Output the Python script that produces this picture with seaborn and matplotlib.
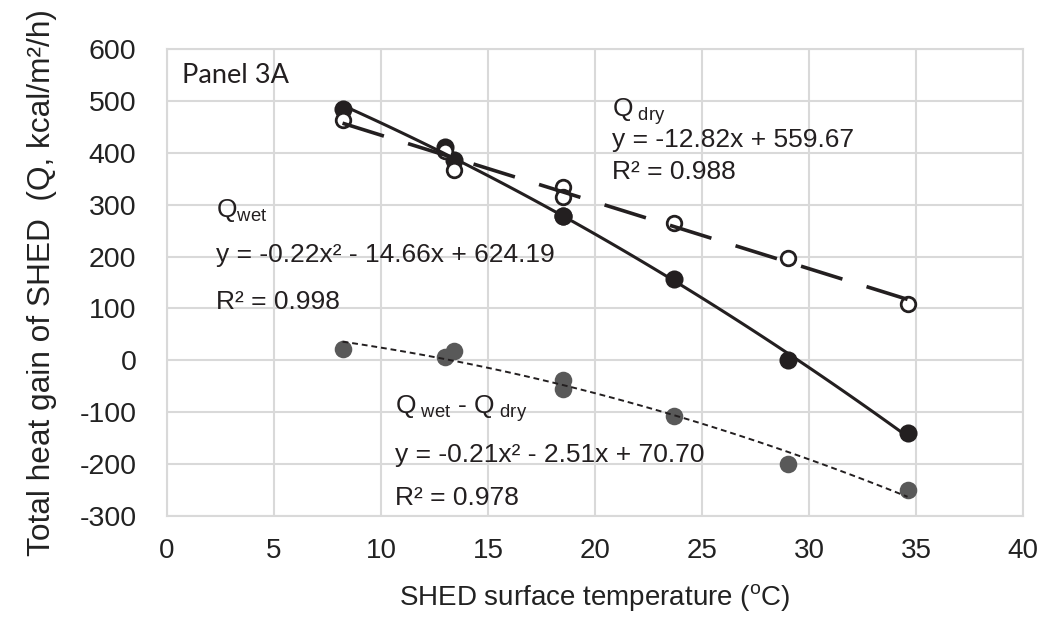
import numpy as np
import pandas as pd
import matplotlib
matplotlib.use("Agg")
import matplotlib.pyplot as plt
import seaborn as sns

# values
temp = [8.2, 13.0, 13.4, 18.5, 18.5, 23.7, 29.0, 34.6]
q_wet = [485, 410, 386, 278, 278, 157, 0, -140]
q_dry = [463, 404, 367, 334, 315, 265, 198, 109]
q_diff = [21, 7, 18, -38, -55, -107, -200, -249]

x_ticks = [0, 5, 10, 15, 20, 25, 30, 35, 40]
y_ticks = [-300, -200, -100, 0, 100, 200, 300, 400, 500, 600]

df = pd.DataFrame({"temp": temp, "wet": q_wet, "dry": q_dry, "diff": q_diff})

sns.set_style("whitegrid")
plt.rcParams["font.family"] = ["Liberation Sans", "DejaVu Sans"]
plt.rcParams["mathtext.fontset"] = "custom"
plt.rcParams["mathtext.rm"] = "Liberation Sans"
plt.rcParams["mathtext.it"] = "Liberation Sans:italic"
plt.rcParams["axes.unicode_minus"] = False

fig = plt.figure(figsize=(10.46, 6.21), dpi=100)
ax = fig.add_axes([0.1597, 0.169, 0.8184, 0.7523])

grid_c = "#d9d9d9"
black = "#231f20"
grey = "#595959"

# trend lines (drawn on top of the markers, like excel)
sns.regplot(data=df, x="temp", y="wet", order=2, ci=None, scatter=False, ax=ax,
            line_kws=dict(color=black, lw=2.2, zorder=4))
sns.regplot(data=df, x="temp", y="dry", order=1, ci=None, scatter=False, ax=ax,
            line_kws=dict(color=black, lw=2.6, dashes=(12, 7), zorder=4))
sns.regplot(data=df, x="temp", y="diff", order=2, ci=None, scatter=False, ax=ax,
            line_kws=dict(color=black, lw=1.4, dashes=(3, 2), zorder=4))

sns.scatterplot(data=df, x="temp", y="diff", ax=ax, color=grey, s=160,
                edgecolor=grey, linewidth=0, zorder=3)
sns.scatterplot(data=df, x="temp", y="wet", ax=ax, color=black, s=170,
                edgecolor=black, linewidth=0, zorder=3)
sns.scatterplot(data=df, x="temp", y="dry", ax=ax, color="white", s=110,
                edgecolor=black, linewidth=2, zorder=3)

ax.set_xlim(0, 40)
ax.set_ylim(-300, 600)
ax.set_xticks(x_ticks)
ax.set_yticks(y_ticks)
ax.grid(True, color=grid_c, lw=1.5)
for s in ax.spines.values():
    s.set_color(grid_c)
    s.set_linewidth(1.5)
ax.tick_params(axis="y", length=0, pad=22, labelsize=20.5, colors="#222222")
ax.tick_params(axis="x", length=0, pad=16, labelsize=20, colors="#222222")

ax.set_xlabel(r"SHED surface temperature ($^{\mathrm{o}}$C)", fontsize=20,
              color="#222222")
ax.xaxis.set_label_coords(0.5, -0.142)
ax.set_ylabel("Total heat gain of SHED  (Q, kcal/m\u00b2/h)", fontsize=22.8,
              color="#222222")
ax.yaxis.set_label_coords(-0.128, 0.5)

tc = "#231f20"
fs = 19
ax.text(0.7, 549, "Panel 3A", fontsize=19.5, family=["Lato", "DejaVu Sans"],
        va="center", color=tc)
ax.text(2.3, 277, r"Q$_{\mathrm{wet}}$", fontsize=fs, va="baseline", color=tc)
ax.text(2.3, 189, "y = -0.22x\u00b2 - 14.66x + 624.19", fontsize=fs, va="baseline", color=tc)
ax.text(2.3, 98, "R\u00b2 = 0.998", fontsize=fs, va="baseline", color=tc)

ax.text(20.8, 469, r"Q$_{\ \mathrm{dry}}$", fontsize=fs, va="baseline", color=tc)
ax.text(20.8, 410, "y = -12.82x + 559.67", fontsize=fs, va="baseline", color=tc)
ax.text(20.8, 350, "R\u00b2 = 0.988", fontsize=fs, va="baseline", color=tc)

ax.text(10.65, -103, r"Q$_{\ \mathrm{wet}}$ - Q$_{\ \mathrm{dry}}$", fontsize=fs,
        va="baseline", color=tc)
ax.text(10.65, -196, "y = -0.21x\u00b2 - 2.51x + 70.70", fontsize=fs, va="baseline", color=tc)
ax.text(10.65, -279, "R\u00b2 = 0.978", fontsize=fs, va="baseline", color=tc)

fig.savefig("out.png", dpi=100)
